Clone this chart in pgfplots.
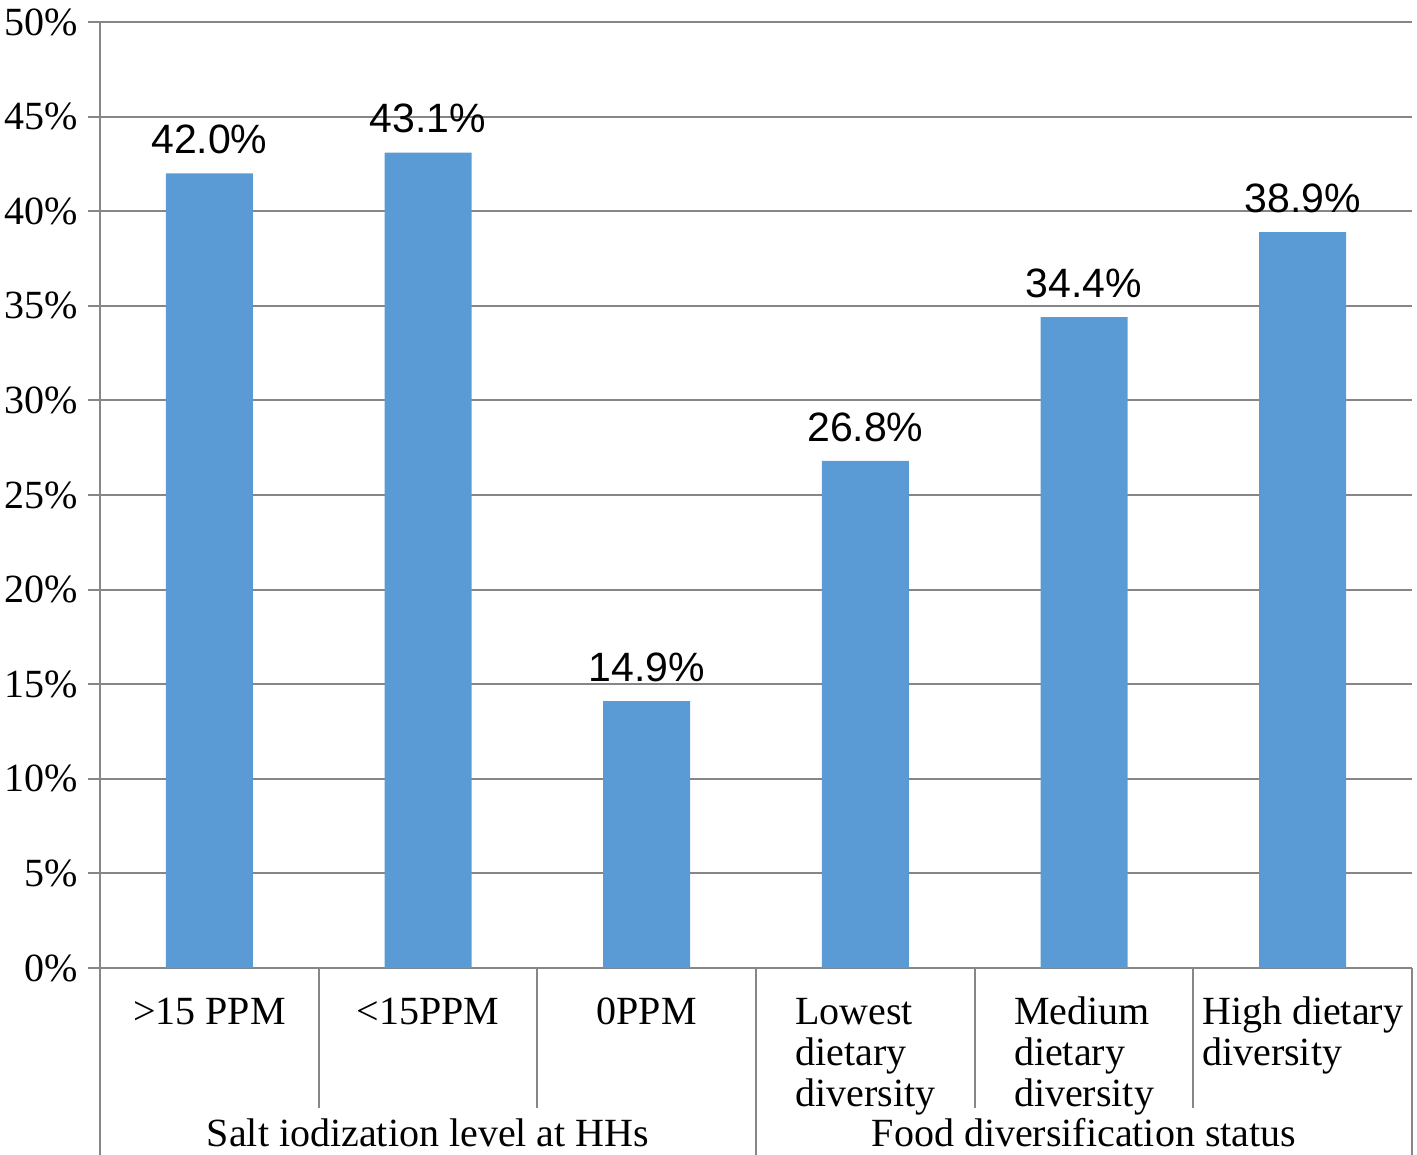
\documentclass[border=0pt]{standalone}
\usepackage{pgfplots}
\pgfplotsset{compat=1.18}
\usepackage{fontspec}
\setmainfont{Liberation Serif}
\newfontfamily\arial{Liberation Sans}
\definecolor{barblue}{HTML}{5B9BD5}
\definecolor{gridgray}{HTML}{868686}
\begin{document}
\begin{tikzpicture}
\path[use as bounding box] (-50bp,-93.5bp) rectangle (658.5bp,484bp);
\begin{axis}[
  at={(0,0)}, anchor=south west, scale only axis,
  width=656bp, height=473bp,
  xmin=0, xmax=6, ymin=0, ymax=50,
  axis x line=bottom, axis y line=left,
  axis line style={draw=gridgray, line width=1bp, -},
  ymajorgrids, grid style={draw=gridgray, line width=1bp},
  ytick={0,5,...,50},
  yticklabels={0\%,5\%,10\%,15\%,20\%,25\%,30\%,35\%,40\%,45\%,50\%},
  ytick style={draw=gridgray, line width=1bp},
  tick align=outside, major tick length=6bp,
  yticklabel style={font=\fontsize{20bp}{21bp}\selectfont, inner sep=0pt, anchor=east, xshift=-5bp},
  xtick={0.5,1.5,2.5,3.5,4.5,5.5},
  xticklabels={{\strut>15 PPM},{\strut<15PPM},{\strut0PPM},{\strut Lowest\\dietary\\diversity},{\strut Medium\\dietary\\diversity},{\strut High dietary\\diversity}},
  x tick style={draw=none},
  xticklabel style={font=\fontsize{20bp}{20.5bp}\selectfont, inner sep=0pt, anchor=north, align=left, yshift=-7.8bp},
  clip=false,
]
\addplot[ybar, fill=barblue, draw=none, bar width=43.5bp,
  nodes near coords, point meta=explicit symbolic,
  every node near coord/.append style={font=\arial\fontsize{20.5bp}{24bp}\selectfont, inner sep=0pt, yshift=9.5bp, text=black}]
  coordinates {
    (0.5,42.0) [42.0\%]
    (1.5,43.1) [43.1\%]
    (2.5,14.1) [14.9\%]
    (3.5,26.8) [26.8\%]
    (4.5,34.4) [34.4\%]
    (5.5,38.9) [38.9\%]
  };
\draw[gridgray, line width=1bp] (axis cs:1,0) -- ++(0,-70bp);
\draw[gridgray, line width=1bp] (axis cs:2,0) -- ++(0,-70bp);
\draw[gridgray, line width=1bp] (axis cs:4,0) -- ++(0,-70bp);
\draw[gridgray, line width=1bp] (axis cs:5,0) -- ++(0,-70bp);
\draw[gridgray, line width=1bp] (axis cs:0,0) -- ++(0,-94bp);
\draw[gridgray, line width=1bp] (axis cs:3,0) -- ++(0,-94bp);
\draw[gridgray, line width=1bp] (axis cs:6,0) -- ++(0,-94bp);
\node[anchor=base, inner sep=0pt, font=\fontsize{20bp}{21bp}\selectfont, yshift=-89.2bp] at (axis cs:1.5,0) {Salt iodization level at HHs};
\node[anchor=base, inner sep=0pt, font=\fontsize{20bp}{21bp}\selectfont, yshift=-89.2bp] at (axis cs:4.5,0) {Food diversification status};
\end{axis}
\end{tikzpicture}
\end{document}
